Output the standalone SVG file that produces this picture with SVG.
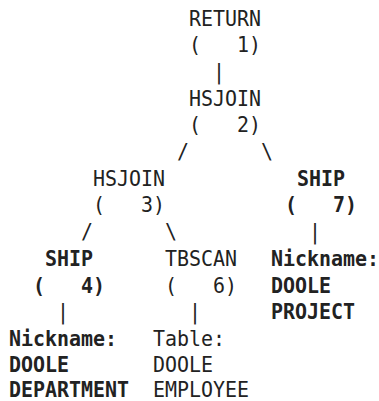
<svg xmlns="http://www.w3.org/2000/svg" width="379" height="401" viewBox="0 0 379 401">
<style>
text{font-family:"DejaVu Sans Mono","Liberation Mono",monospace;font-size:21px;fill:#222;white-space:pre}
.b{font-weight:bold}
</style>
<rect width="379" height="401" fill="#fff"/>
<g transform="scale(0.95,1)">
<g id="return1"><text x="198.95" y="26">RETURN</text><text x="198.95" y="52" xml:space="preserve">(   1)</text></g>
<g id="hsjoin2"><text x="198.95" y="106">HSJOIN</text><text x="198.95" y="132" xml:space="preserve">(   2)</text></g>
<g id="hsjoin3"><text x="97.89" y="186">HSJOIN</text><text x="97.89" y="212" xml:space="preserve">(   3)</text></g>
<g id="ship7"><text class="b" x="312.63" y="186">SHIP</text><text class="b" x="300" y="212" xml:space="preserve">(   7)</text></g>
<g id="ship4"><text class="b" x="47.37" y="266">SHIP</text><text class="b" x="34.74" y="293" xml:space="preserve">(   4)</text></g>
<g id="tbscan6"><text x="173.68" y="266">TBSCAN</text><text x="173.68" y="293" xml:space="preserve">(   6)</text></g>
<g id="project"><text class="b" x="285.26" y="266">Nickname:</text><text class="b" x="285.26" y="293">DOOLE</text><text class="b" x="285.26" y="319">PROJECT</text></g>
<g id="department"><text class="b" x="9.47" y="346">Nickname:</text><text class="b" x="9.47" y="372">DOOLE</text><text class="b" x="9.47" y="397">DEPARTMENT</text></g>
<g id="employee"><text x="161.05" y="346">Table:</text><text x="161.05" y="372">DOOLE</text><text x="161.05" y="397">EMPLOYEE</text></g>
<g id="connectors">
<text x="224.21" y="79">|</text>
<text x="186.32" y="159">/</text><text x="274.74" y="159">\</text>
<text x="85.26" y="239">/</text><text x="173.68" y="239">\</text><text x="325.26" y="239">|</text>
<text x="60" y="319">|</text><text x="198.95" y="319">|</text>
</g>
</g>
</svg>
